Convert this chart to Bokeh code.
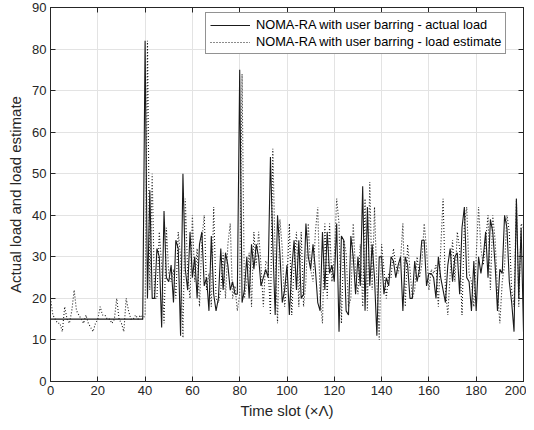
from bokeh.plotting import figure
from bokeh.models import LinearAxis, Range1d, FixedTicker, Legend, LegendItem, ColumnDataSource
from bokeh.embed import file_html
from bokeh.resources import INLINE

time_slots = list(range(0, 201))

actual_load = [15] * 40 + [
    82, 20, 46, 20, 20, 32, 30, 13, 41, 25,
    24, 28, 19, 34, 32, 11, 50, 27, 22, 36,
    25, 30, 20, 33, 36, 23, 25, 17, 35, 21,
    17, 20, 32, 22, 31, 28, 22, 24, 21, 21,
    75, 19, 22, 30, 20, 33, 27, 33, 30, 23,
    25, 27, 25, 54, 33, 16, 40, 31, 19, 22,
    28, 16, 27, 34, 22, 34, 20, 21, 38, 30,
    27, 33, 27, 19, 17, 36, 22, 36, 26, 28,
    24, 38, 12, 35, 34, 17, 16, 35, 30, 21,
    30, 23, 47, 17, 42, 23, 33, 25, 11, 30,
    30, 21, 25, 23, 30, 29, 25, 28, 30, 17,
    30, 28, 20, 20, 29, 24, 27, 34, 34, 23,
    26, 26, 25, 20, 30, 25, 22, 19, 28, 32,
    24, 30, 31, 21, 37, 42, 25, 24, 17, 29,
    17, 30, 26, 30, 36, 25, 39, 36, 28, 17,
    27, 26, 40, 37, 24, 19, 12, 44, 20, 37,
    12,
]

load_estimate = [
    20, 16, 15, 14, 14, 12, 18, 15, 14, 17,
    22, 17, 16, 15, 14, 16, 14, 13, 12, 14,
    15, 18, 16, 16, 15, 15, 14, 15, 20, 15,
    14, 12, 20, 17, 15, 15, 16, 15, 16, 15,
    16, 82, 22, 50, 20, 20, 36, 28, 14, 37,
    26, 24, 27, 20, 36, 30, 10.5, 44, 26, 20,
    40, 24, 32, 18, 34, 40, 22, 26, 18, 42,
    20, 19, 22, 31, 20, 33, 38, 20, 23, 17,
    21, 74, 20, 24, 31, 18, 36, 28, 36, 28,
    18, 29, 28, 16, 56, 30, 14, 39, 32, 18,
    24, 38, 16, 28, 36, 18, 36, 18, 24, 38,
    27, 24, 36, 42, 20, 14, 38, 20, 38, 24,
    30, 44, 38, 14, 34, 31, 18, 20, 38, 26,
    21, 33, 18, 44, 17, 48, 22, 42, 24, 10,
    33, 27, 20, 26, 25, 32, 28, 26, 29, 38,
    18, 33, 27, 20, 22, 30, 25, 28, 38, 32,
    22, 27, 26, 28, 18, 32, 44, 22, 16, 26,
    34, 24, 36, 32, 16, 38, 42, 26, 24, 18,
    30, 42, 32, 28, 34, 40, 22, 40, 34, 22,
    14, 24, 28, 40, 36, 22, 18, 44, 18, 38,
    37,
]

x_ticks = [0, 20, 40, 60, 80, 100, 120, 140, 160, 180, 200]
y_ticks = [0, 10, 20, 30, 40, 50, 60, 70, 80, 90]

legend_labels = [
    "NOMA-RA with user barring - actual load",
    "NOMA-RA with user barring - load estimate",
]

FONT = "Liberation Sans"

p = figure(
    width=526, height=421,
    x_range=Range1d(0, 200), y_range=Range1d(0, 90),
    output_backend="svg", toolbar_location=None,
    min_border_left=50, min_border_right=3, min_border_top=7, min_border_bottom=40,
)
p.background_fill_color = "white"
p.border_fill_color = "white"
p.outline_line_color = "#262626"
p.outline_line_width = 1

src = ColumnDataSource(dict(t=time_slots, a=actual_load, e=load_estimate))
r1 = p.line("t", "a", source=src, line_color="#1a1a1a", line_width=1.1)
r2 = p.line("t", "e", source=src, line_color="#1a1a1a", line_width=1.1, line_dash="1 2")

for ax in p.xaxis:
    ax.ticker = FixedTicker(ticks=x_ticks)
for ax in p.yaxis:
    ax.ticker = FixedTicker(ticks=y_ticks)

def style_axis(ax):
    ax.axis_line_color = "#262626"
    ax.major_tick_line_color = "#262626"
    ax.major_tick_in = 5
    ax.major_tick_out = 0
    ax.minor_tick_line_color = None
    ax.major_label_text_font = FONT
    ax.major_label_text_font_size = "13px"
    ax.major_label_text_color = "#262626"
    ax.axis_label_text_font = FONT
    ax.axis_label_text_font_size = "15px"
    ax.axis_label_text_font_style = "normal"
    ax.axis_label_text_color = "#262626"

p.xaxis.axis_label = "Time slot (×Λ)"
p.yaxis.axis_label = "Actual load and load estimate"
p.xaxis.axis_label_standoff = 4
p.yaxis.axis_label_standoff = 5
p.xaxis.major_label_standoff = 4
p.yaxis.major_label_standoff = 4
style_axis(p.xaxis[0])
style_axis(p.yaxis[0])

# Box axes (top / right) with inward ticks and no labels
top_ax = LinearAxis(ticker=FixedTicker(ticks=x_ticks),
                    major_label_overrides={t: "" for t in x_ticks})
right_ax = LinearAxis(ticker=FixedTicker(ticks=y_ticks),
                      major_label_overrides={t: "" for t in y_ticks})
style_axis(top_ax)
style_axis(right_ax)
top_ax.major_label_standoff = 0
right_ax.major_label_standoff = 0
p.add_layout(top_ax, "above")
p.add_layout(right_ax, "right")

p.xgrid.grid_line_color = "#e3e3e3"
p.ygrid.grid_line_color = "#e3e3e3"
p.xgrid.ticker = FixedTicker(ticks=x_ticks)
p.ygrid.ticker = FixedTicker(ticks=y_ticks)

legend = Legend(
    items=[LegendItem(label=legend_labels[0], renderers=[r1]),
           LegendItem(label=legend_labels[1], renderers=[r2])],
    location=(155, 327),
    label_text_font=FONT, label_text_font_size="12.8px", label_text_color="#000000",
    border_line_color="#262626", border_line_width=1,
    background_fill_color="white", background_fill_alpha=1.0,
    glyph_width=40, glyph_height=14, label_height=14,
    spacing=2, padding=4, margin=0, label_standoff=6,
)
p.add_layout(legend)

open("out.html", "w").write(file_html(p, INLINE))
